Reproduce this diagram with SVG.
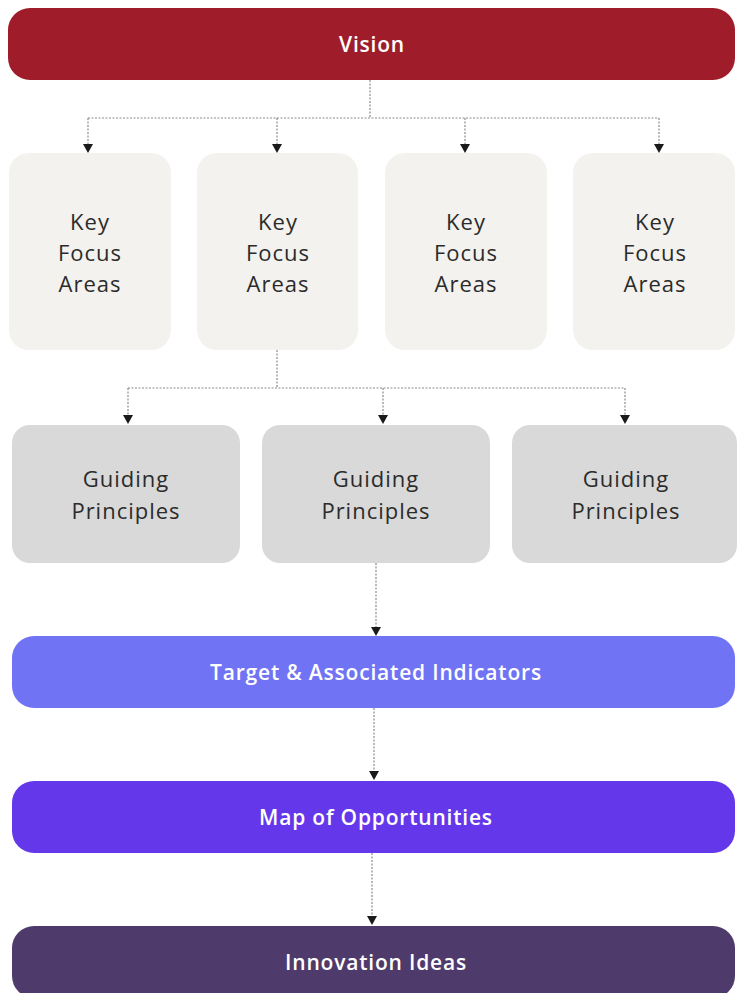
<svg xmlns="http://www.w3.org/2000/svg" width="737" height="993" viewBox="0 0 737 993">
<defs>
<style>
.kfa{fill:#f3f2ee}
.gp{fill:#d9d9d9}
.dark{font-family:"Open Sans","Noto Sans",sans-serif;font-size:22px;fill:#2b2b2b;text-anchor:middle;letter-spacing:1px}
.light{font-family:"Open Sans","Noto Sans",sans-serif;font-size:21px;fill:#ffffff;text-anchor:middle;font-weight:600;letter-spacing:0.8px}
.con{fill:none;stroke:#8a8a8a;stroke-width:1.2;stroke-dasharray:2 1.5}
.ah{fill:#1a1a1a}
</style>
</defs>
<g id="connectors">
<path class="con" d="M370,80 V118 M88,118 H659"/>
<path class="con" d="M88,118 V146"/>
<path class="con" d="M277,118 V146"/>
<path class="con" d="M465,118 V146"/>
<path class="con" d="M659,118 V146"/>
<path class="con" d="M277,350 V388 M128,388 H625"/>
<path class="con" d="M128,388 V417"/>
<path class="con" d="M383,388 V417"/>
<path class="con" d="M625,388 V417"/>
<path class="con" d="M376,563 V629"/>
<path class="con" d="M374,708 V773"/>
<path class="con" d="M372,853 V918"/>
<g class="ah">
<path d="M83,144 H93 L88,153 Z"/>
<path d="M272,144 H282 L277,153 Z"/>
<path d="M460,144 H470 L465,153 Z"/>
<path d="M654,144 H664 L659,153 Z"/>
<path d="M123,415 H133 L128,424 Z"/>
<path d="M378,415 H388 L383,424 Z"/>
<path d="M620,415 H630 L625,424 Z"/>
<path d="M371,627 H381 L376,636 Z"/>
<path d="M369,771 H379 L374,780 Z"/>
<path d="M367,916 H377 L372,925 Z"/>
</g>
</g>
<g id="vision">
<rect x="8" y="8" width="727" height="72" rx="22" fill="#9f1c2b"/>
<text class="light" x="372" y="52">Vision</text>
</g>
<g id="kfa1">
<rect class="kfa" x="9" y="153" width="162" height="197" rx="20"/>
<text class="dark" x="90" y="230">Key</text>
<text class="dark" x="90" y="261">Focus</text>
<text class="dark" x="90" y="292">Areas</text>
</g>
<g id="kfa2">
<rect class="kfa" x="197" y="153" width="161" height="197" rx="20"/>
<text class="dark" x="278" y="230">Key</text>
<text class="dark" x="278" y="261">Focus</text>
<text class="dark" x="278" y="292">Areas</text>
</g>
<g id="kfa3">
<rect class="kfa" x="385" y="153" width="162" height="197" rx="20"/>
<text class="dark" x="466" y="230">Key</text>
<text class="dark" x="466" y="261">Focus</text>
<text class="dark" x="466" y="292">Areas</text>
</g>
<g id="kfa4">
<rect class="kfa" x="573" y="153" width="162" height="197" rx="20"/>
<text class="dark" x="655" y="230">Key</text>
<text class="dark" x="655" y="261">Focus</text>
<text class="dark" x="655" y="292">Areas</text>
</g>
<g id="gp1">
<rect class="gp" x="12" y="425" width="228" height="138" rx="18"/>
<text class="dark" x="126" y="487">Guiding</text>
<text class="dark" x="126" y="519">Principles</text>
</g>
<g id="gp2">
<rect class="gp" x="262" y="425" width="228" height="138" rx="18"/>
<text class="dark" x="376" y="487">Guiding</text>
<text class="dark" x="376" y="519">Principles</text>
</g>
<g id="gp3">
<rect class="gp" x="512" y="425" width="225" height="138" rx="18"/>
<text class="dark" x="626" y="487">Guiding</text>
<text class="dark" x="626" y="519">Principles</text>
</g>
<g id="target">
<rect x="12" y="636" width="723" height="72" rx="22" fill="#7173f5"/>
<text class="light" x="376" y="680">Target &amp; Associated Indicators</text>
</g>
<g id="map">
<rect x="12" y="781" width="723" height="72" rx="22" fill="#6438ea"/>
<text class="light" x="376" y="825">Map of Opportunities</text>
</g>
<g id="ideas">
<rect x="12" y="926" width="723" height="72" rx="22" fill="#4e3a6b"/>
<text class="light" x="376" y="970">Innovation Ideas</text>
</g>
</svg>
